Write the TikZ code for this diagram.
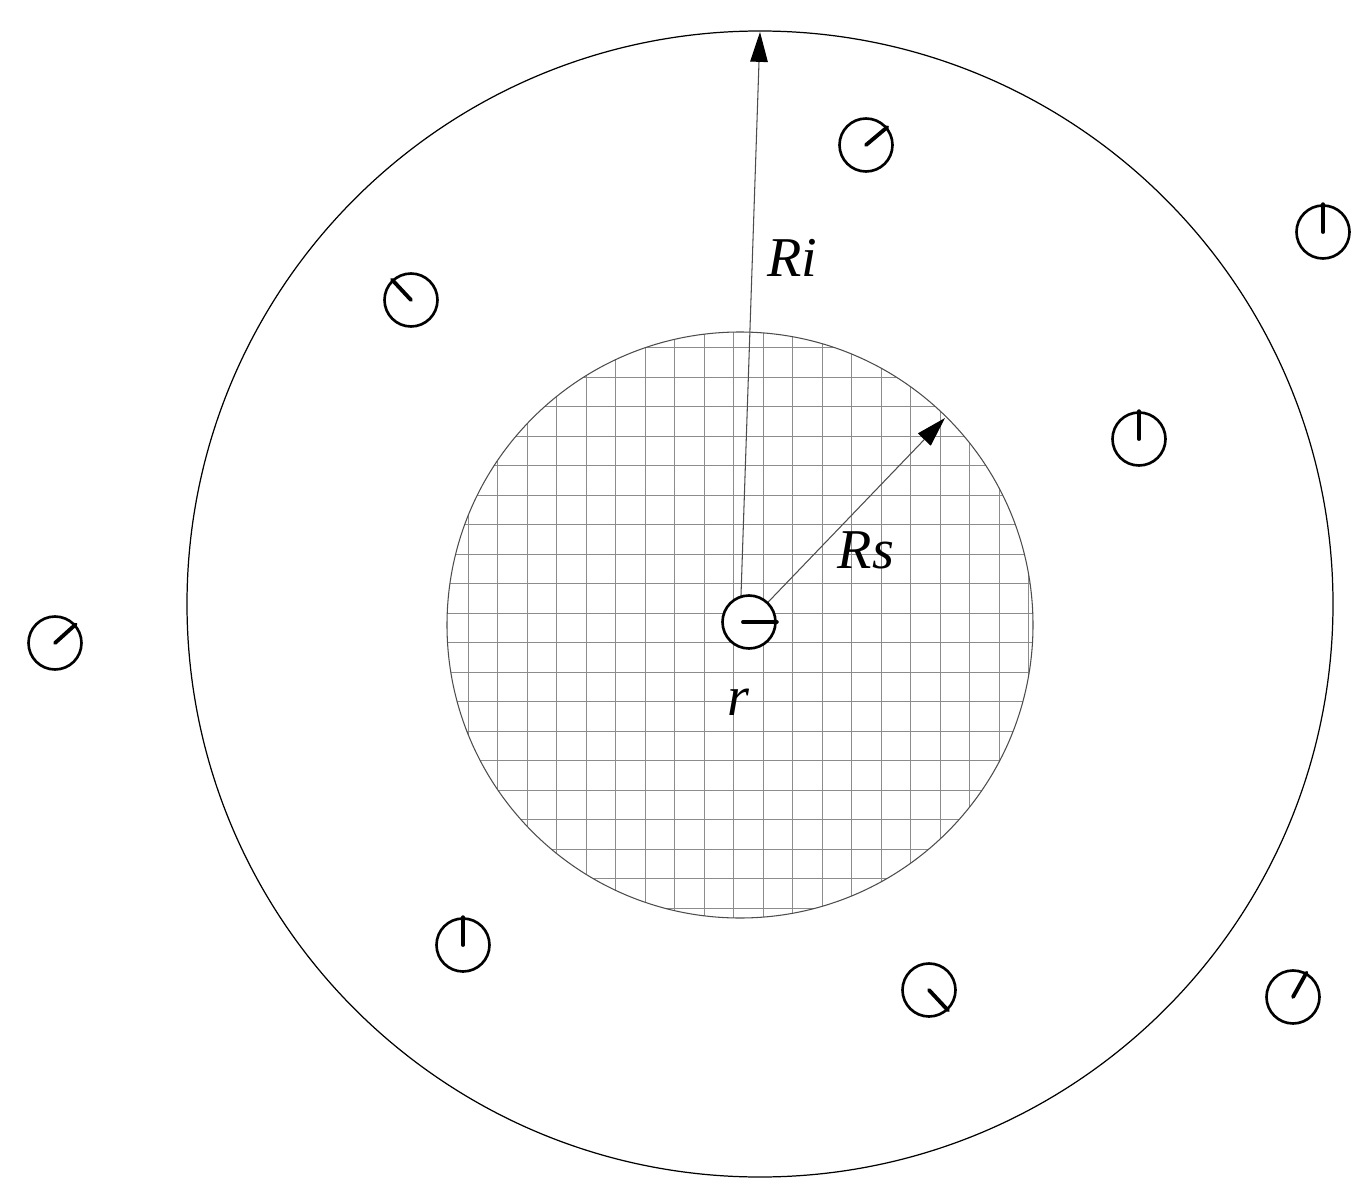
\documentclass[tikz,border=0pt]{standalone}
\usepackage{fontspec}
\setmainfont{Liberation Serif}
\usetikzlibrary{arrows.meta}
\begin{document}
\begin{tikzpicture}[x=0.02cm,y=-0.02cm,
  charge/.style={circle,draw=black,fill=white,line width=1.5pt,minimum size=1.06cm,inner sep=0pt},
  pointer/.style={line width=2.2pt,line cap=round},
  radius line/.style={draw=black!70,line width=0.6pt,-{Triangle[length=17pt,width=10pt,color=black]}},
  lbl/.style={font=\fontsize{32}{36}\selectfont\itshape,inner sep=0pt}]
\useasboundingbox[fill=white] (0,0) rectangle (1370,1203);
% outer circle
\draw[line width=0.7pt] (760,604) circle[radius=573*0.02cm];
% hatched circle
\coordinate (hc) at (740,625);
\begin{scope}
  \clip (hc) circle[radius=293*0.02cm];
  \foreach \i in {-12,...,12}{
    \draw[black!45,line width=0.5pt] (763+\i*29.5,300) -- (763+\i*29.5,950);
    \draw[black!45,line width=0.5pt] (420,613+\i*29.5) -- (1060,613+\i*29.5);
  }
\end{scope}
\draw[black!70,line width=0.6pt] (hc) circle[radius=293*0.02cm];
% radius arrows
\coordinate (ritip) at (760,32);
\coordinate (rstip) at (945,418);
\coordinate (cc) at (749,622);
\draw[radius line] (hc) -- (ritip);
\draw[radius line] (cc) -- (rstip);
% charges
\node[charge] (c0) at (749,622) {};
\node[charge] (c1) at (866,145) {};
\node[charge] (c2) at (411,300) {};
\node[charge] (c3) at (1323,232) {};
\node[charge] (c4) at (55,643) {};
\node[charge] (c5) at (463,945) {};
\node[charge] (c6) at (929,990) {};
\node[charge] (c7) at (1293,997) {};
\node[charge] (c8) at (1139,439) {};
\draw[pointer] (c0.center) ++(-6,0) -- (c0.0);
\draw[pointer] (c1.center) -- (c1.40);
\draw[pointer] (c2.center) -- (c2.133);
\draw[pointer] (c3.center) -- (c3.90);
\draw[pointer] (c4.center) -- (c4.42);
\draw[pointer] (c5.center) -- (c5.90);
\draw[pointer] (c6.center) -- (c6.-47);
\draw[pointer] (c7.center) -- (c7.61);
\draw[pointer] (c8.center) -- (c8.90);
% labels
\node[lbl] (ri) at (792,258) {Ri};
\node[lbl] (rs) at (866,550) {Rs};
\node[lbl] (r) at (738,702) {r};
\end{tikzpicture}
\end{document}
